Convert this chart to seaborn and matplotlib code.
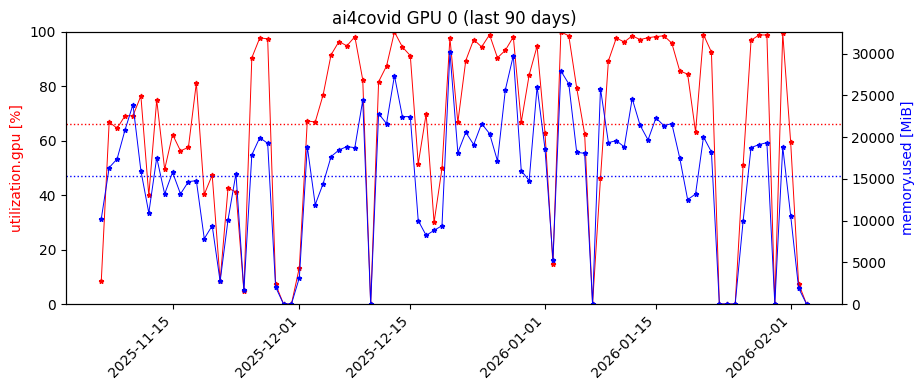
import pandas as pd
import seaborn as sns
import matplotlib
matplotlib.use("Agg")
import matplotlib.pyplot as plt
import matplotlib.dates as mdates

days = pd.date_range("2025-11-06", "2026-02-03", freq="D")

util = [8.3, 66.9, 64.6, 69.2, 69.2, 76.5, 39.9, 75.0, 49.5, 62.3,
        56.3, 57.6, 81.3, 40.3, 47.4, 8.6, 42.6, 41.2, 4.8, 90.5,
        97.8, 97.5, 7.3, 0, 0, 13.4, 67.3, 66.9, 76.9, 91.6,
        96.5, 94.9, 98.3, 82.4, 0, 81.7, 87.5, 100, 94.5, 91.3,
        51.5, 69.9, 30.0, 49.9, 97.8, 66.8, 89.5, 97.2, 94.5, 99.0,
        90.5, 93.3, 98.2, 66.8, 84.2, 94.8, 62.8, 14.6, 100, 98.6,
        79.4, 62.6, 0, 46.2, 89.4, 97.8, 96.3, 98.6, 97.2, 97.9,
        98.3, 98.6, 95.9, 85.7, 84.5, 63.2, 99.0, 92.6, 0, 0,
        0, 51.0, 96.9, 98.9, 98.9, 0, 99.6, 59.5, 7.5, 0]

mem = [10192, 16343, 17386, 20863, 23896, 15983, 10911, 17541, 13189, 15779,
       13189, 14664, 14784, 7829, 9388, 2710, 10108, 15623, 1631, 17865,
       19939, 19256, 2038, 0, 0, 3153, 18860, 11906, 14424, 17661,
       18464, 18860, 18740, 24414, 0, 22817, 21618, 27373, 22457, 22457,
       9988, 8225, 8825, 9388, 30215, 18141, 20575, 19100, 21618, 20419,
       17146, 25693, 29770, 15983, 14784, 26053, 18584, 5312, 27937, 26378,
       18177, 18057, 0, 25814, 19340, 19580, 18824, 24615, 21414, 19664,
       22301, 21378, 21618, 17505, 12505, 13189, 20023, 18225, 0, 0,
       0, 9952, 18740, 19100, 19340, 0, 18824, 10587, 1918, 0]

mem_total = 32600
ticks = pd.to_datetime(["2025-11-15", "2025-12-01", "2025-12-15",
                        "2026-01-01", "2026-01-15", "2026-02-01"])

df = pd.DataFrame({"date": days, "util": util, "mem": mem})

fig, ax = plt.subplots(figsize=(9.23, 3.9), dpi=100)
fig.subplots_adjust(left=0.0715, right=0.912, top=0.918, bottom=0.2205)
ax2 = ax.twinx()

sns.lineplot(data=df, x="date", y="util", ax=ax, color="red", lw=0.7,
             marker="*", markersize=3.5, markeredgewidth=1,
             markeredgecolor="red")
ax.axhline(df["util"].mean(), color="red", ls=":", lw=1)
sns.lineplot(data=df, x="date", y="mem", ax=ax2, color="blue", lw=0.7,
             marker="*", markersize=3.5, markeredgewidth=1,
             markeredgecolor="blue")
ax2.axhline(df["mem"].mean(), color="blue", ls=":", lw=1)

ax.set_ylim(0, 100)
ax2.set_ylim(0, mem_total)
ax.set_ylabel("utilization.gpu [%]", color="red")
ax2.set_ylabel("memory.used [MiB]", color="blue")
ax.set_xlabel("")
ax.set_title("ai4covid GPU 0 (last 90 days)")

ax.set_xticks(ticks)
ax.xaxis.set_major_formatter(mdates.DateFormatter("%Y-%m-%d"))
plt.setp(ax.get_xticklabels(), rotation=45, ha="right")

fig.savefig("out.png", dpi=100)
